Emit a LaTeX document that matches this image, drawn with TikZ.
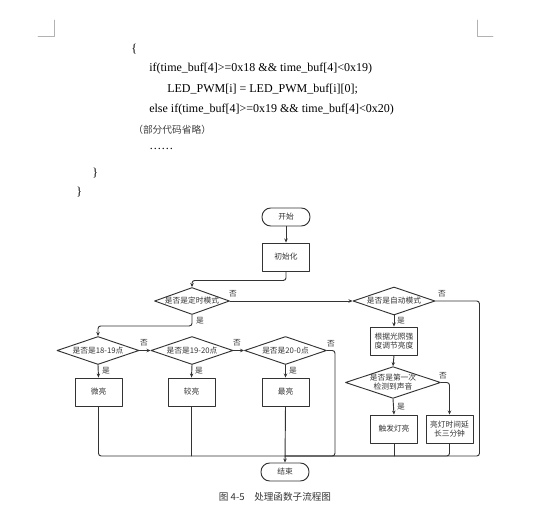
\documentclass[tikz,border=0pt]{standalone}
\usepackage{fontspec}
\setmainfont{Liberation Serif}
\newfontfamily\cjk{Noto Sans CJK SC}
\usepackage{tikz}
\usetikzlibrary{arrows.meta}
\usetikzlibrary{shapes}

\begin{document}
\begin{tikzpicture}[x=0.75pt, y=-0.75pt, line join = round, line cap = round,
  chart/.style={font=\cjk\fontsize{5.8}{6.8}\selectfont, inner sep=0pt, color=black!80},
  term/.style={chart, draw, line width=0.7pt, rounded corners=6.5pt, minimum width=36pt, minimum height=13.5pt},
  proc/.style={chart, draw, line width=0.7pt, minimum width=35.25pt, minimum height=21pt, align=center},
  ask/.style={chart, draw, line width=0.7pt, diamond, aspect=2.9, minimum width=61.5pt, minimum height=21pt, align=center},
  flow/.style={line width=0.7pt, color=black!80, rounded corners=2pt, -{Stealth[length=3pt,width=2.6pt]}},
  wire/.style={line width=0.7pt, color=black!80, rounded corners=2pt},
  tag/.style={chart},
  code/.style={anchor=west, inner sep=0pt, font=\fontsize{9}{11}\selectfont}]

\useasboundingbox (0,0) rectangle (540,518);

% page corner marks
\draw[gray!60, line width=0.5pt] (38,36) -- (54,36) -- (54,20);
\draw[gray!60, line width=0.5pt] (477,20) -- (477,36) -- (493,36);

% code lines
\node[code] (c1) at (131,49) {\{};
\node[code] (c2) at (149,69) {if(time\_buf[4]>=0x18 \&\& time\_buf[4]<0x19)};
\node[code] (c3) at (167,89) {LED\_PWM[i] = LED\_PWM\_buf[i][0];};
\node[code] (c4) at (149,110) {else if(time\_buf[4]>=0x19 \&\& time\_buf[4]<0x20)};
\node[code, font=\cjk\fontsize{7.3}{9}\selectfont, color=black!75] (c5) at (133,130) {（部分代码省略）};
\node[code] (c6) at (149,149) {……};
\node[code] (c7) at (92,173) {\}};
\node[code] (c8) at (76,192) {\}};

% flow chart nodes
\node[term] (start) at (286,217) {开始};
\node[proc] (init) at (286,257) {初始化};
\node[ask, minimum width=52.5pt, minimum height=20.25pt] (mode) at (192,301) {是否是定时模式};
\node[ask] (hr18) at (98,350.5) {是否是18-19点};
\node[ask] (hr19) at (192,350.5) {是否是19-20点};
\node[ask] (hr20) at (285.5,350.5) {是否是20-0点};
\node[proc] (dim) at (98.5,392) {微亮};
\node[proc] (mid) at (191.5,392) {较亮};
\node[proc] (max) at (285.5,392) {最亮};
\node[term] (stop) at (285,472) {结束};
\node[ask] (auto) at (394,301) {是否是自动模式};
\node[proc] (light) at (394,341) {根据光照强\\度调节亮度};
\node[ask, aspect=3, minimum width=69pt, minimum height=23.25pt] (sound) at (393,382.5) {是否是第一次\\检测到声音};
\node[proc] (trig) at (394,429) {触发灯亮};
\node[proc] (ext) at (449.5,429) {亮灯时间延\\长三分钟};
\coordinate (join) at (285,456); % bottom collector line

% connectors
\draw[flow] (start) -- (init);
\draw[flow] (init.south) -- ++(0,9) -| (mode.north);
\draw[flow] (mode.east) -- (auto.west); % no
\draw[flow] (mode.south) -- ++(0,11) -| (hr18.north); % yes
\draw[flow] (hr18.east) -- (hr19.west);
\draw[flow] (hr19.east) -- (hr20.west);
\draw[flow] (hr18.south) -- (dim.north);
\draw[flow] (hr19.south) -- (mid.north);
\draw[flow] (hr20.south) -- (max.north);
\draw[flow] (auto.south) -- (light.north);
\draw[flow] (light.south) -- (sound.north);
\draw[flow] (sound.south) -- (trig.north);
\draw[flow] (sound.east) -| (ext.north);

% collector lines
\draw[wire] (dim.south) |- (join);
\draw[wire] (mid.south) -- (mid.south |- join);
\draw[wire] (hr20.east) -- ++(8,0) |- (join);
\draw[wire] (auto.east) -- ++(44,0) |- (join);
\draw[wire] (trig.south) -- (trig.south |- join);
\draw[wire] (ext.south) |- (join);
\draw[flow] (max.south) -- (stop.north);

% yes / no labels
\node[tag] (n1) at (233,294) {否};
\node[tag] (y1) at (200,321) {是};
\node[tag] (n2) at (144,343) {否};
\node[tag] (n3) at (237,343) {否};
\node[tag] (n4) at (331,344) {否};
\node[tag] (y2) at (106,371) {是};
\node[tag] (y3) at (199,371) {是};
\node[tag] (y4) at (293,371) {是};
\node[tag] (n5) at (442,294) {否};
\node[tag] (y5) at (401,321) {是};
\node[tag] (n6) at (443,376) {否};
\node[tag] (y6) at (401,407) {是};

% caption
\node[chart, font=\cjk\fontsize{7.2}{8}\selectfont] (cap) at (275,497) {图 4-5\quad 处理函数子流程图};

\end{tikzpicture}
\end{document}
